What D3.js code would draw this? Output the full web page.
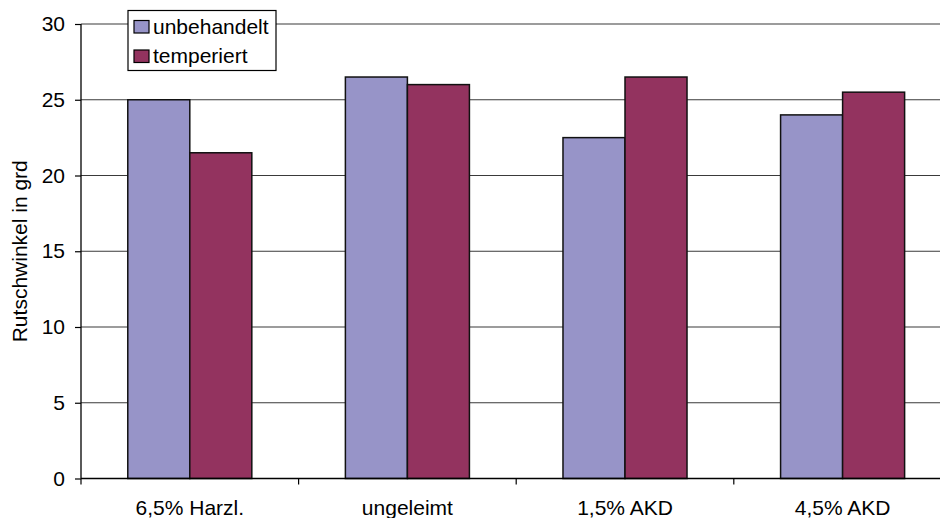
<!DOCTYPE html>
<html>
<head>
<meta charset="utf-8">
<script src="https://cdn.jsdelivr.net/npm/d3@7"></script>
<style>
  html, body { margin: 0; padding: 0; background: #fff; }
  svg { display: block; }
  text { font-family: "Liberation Sans", Arial, sans-serif; fill: #000; }
</style>
</head>
<body>
<svg id="chart" width="940" height="518"></svg>
<script>
// Rutschwinkel (slip angle) by sizing agent, untreated vs. tempered
const categories = ["6,5% Harzl.", "ungeleimt", "1,5% AKD", "4,5% AKD"];
const seriesNames = ["unbehandelt", "temperiert"];
const unbehandelt = [25, 26.5, 22.5, 24];
const temperiert = [21.5, 26, 26.5, 25.5];
const yTicks = [0, 5, 10, 15, 20, 25, 30];
const yLabel = "Rutschwinkel in grd";
const colors = ["#9794c8", "#93335f"];

const series = [unbehandelt, temperiert];

const svg = d3.select("#chart");
const W = 940;
const plotLeft = 81, plotBottom = 478.5, plotTop = 24;
const fontSize = 21;

const x = d3.scaleBand()
  .domain(categories)
  .range([plotLeft, plotLeft + 4 * 217.6])
  .paddingInner(0.43)
  .paddingOuter(0.215);

const xInner = d3.scaleBand()
  .domain(seriesNames)
  .range([0, x.bandwidth()]);

const y = d3.scaleLinear().domain([0, 30]).range([plotBottom, plotTop]);

// horizontal gridlines
svg.append("g")
  .selectAll("line")
  .data(yTicks.filter(d => d > 0))
  .join("line")
  .attr("x1", plotLeft).attr("x2", W)
  .attr("y1", d => y(d)).attr("y2", d => y(d))
  .attr("stroke", "#3a3a3a")
  .attr("stroke-width", 1.2);

// bars
const groups = svg.append("g")
  .selectAll("g")
  .data(categories)
  .join("g")
  .attr("transform", d => `translate(${x(d)},0)`);

groups.selectAll("rect")
  .data((c, i) => seriesNames.map((s, j) => ({ s, v: series[j][i], j })))
  .join("rect")
  .attr("x", d => xInner(d.s))
  .attr("width", xInner.bandwidth())
  .attr("y", d => y(d.v))
  .attr("height", d => y(0) - y(d.v))
  .attr("fill", d => colors[d.j])
  .attr("stroke", "#111")
  .attr("stroke-width", 1.5);

// y axis
const yAxis = d3.axisLeft(y)
  .tickValues(yTicks)
  .tickSize(6)
  .tickPadding(10)
  .tickFormat(d3.format("d"));
const gy = svg.append("g")
  .attr("transform", `translate(${plotLeft},0)`)
  .call(yAxis);
gy.select(".domain").attr("stroke", "#000").attr("stroke-width", 1.3)
  .attr("d", `M0,${plotTop}V${plotBottom}`);
gy.selectAll(".tick line").attr("stroke", "#000").attr("stroke-width", 1.2);
gy.selectAll(".tick text")
  .style("font-family", "Liberation Sans, Arial, sans-serif")
  .style("font-size", fontSize + "px")
  .attr("fill", "#000");

// x axis: line along zero with ticks at category boundaries
const gx = svg.append("g");
gx.append("line")
  .attr("x1", plotLeft).attr("x2", W)
  .attr("y1", plotBottom).attr("y2", plotBottom)
  .attr("stroke", "#000").attr("stroke-width", 1.5);
const boundaries = categories.map(c => x(c) - x.step() * x.paddingOuter());
gx.selectAll("line.tick")
  .data(boundaries)
  .join("line")
  .attr("class", "tick")
  .attr("x1", d => d).attr("x2", d => d)
  .attr("y1", plotBottom).attr("y2", plotBottom + 6)
  .attr("stroke", "#000").attr("stroke-width", 1.2);
gx.selectAll("text")
  .data(categories)
  .join("text")
  .attr("x", d => x(d) + x.bandwidth() / 2)
  .attr("y", 515)
  .attr("text-anchor", "middle")
  .style("font-size", fontSize + "px")
  .text(d => d);

// y axis title
svg.append("text")
  .attr("transform", `translate(27,${(plotTop + plotBottom) / 2}) rotate(-90)`)
  .attr("text-anchor", "middle")
  .style("font-size", fontSize + "px")
  .text(yLabel);

// legend
const legend = svg.append("g");
legend.append("rect")
  .attr("x", 128).attr("y", 10.5)
  .attr("width", 148).attr("height", 60)
  .attr("fill", "#fff")
  .attr("stroke", "#000").attr("stroke-width", 1.2);
const rows = legend.selectAll("g.row")
  .data(seriesNames)
  .join("g")
  .attr("class", "row")
  .attr("transform", (d, i) => `translate(0,${i * 29.5})`);
rows.append("rect")
  .attr("x", 134).attr("y", 20.5)
  .attr("width", 15).attr("height", 12.5)
  .attr("fill", (d, i) => colors[i])
  .attr("stroke", "#000").attr("stroke-width", 1.2);
rows.append("text")
  .attr("x", 153).attr("y", 33.5)
  .style("font-size", fontSize + "px")
  .text(d => d);
</script>
</body>
</html>
